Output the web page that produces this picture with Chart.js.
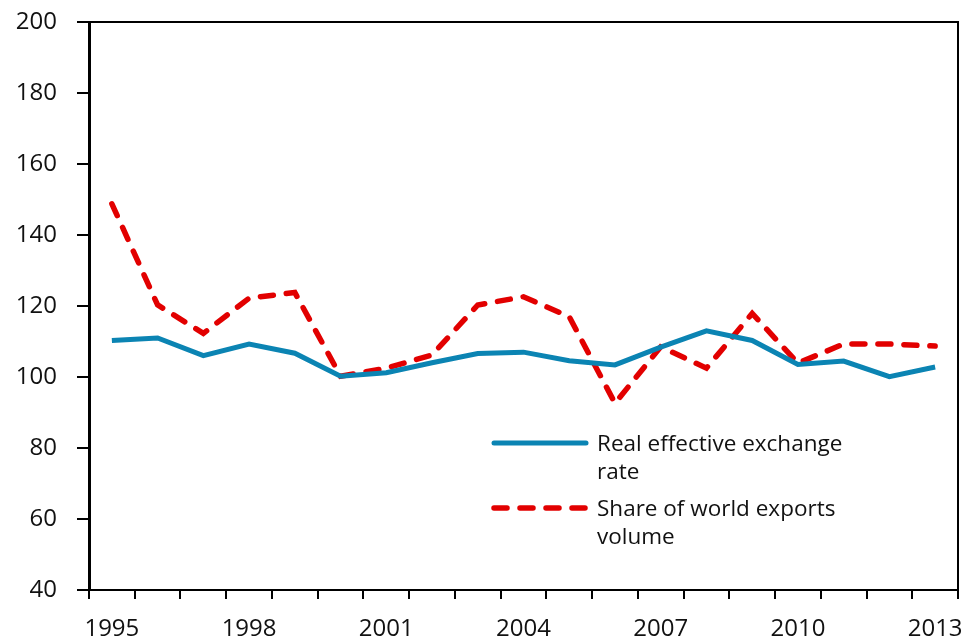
<!DOCTYPE html>
<html>
<head>
<meta charset="utf-8">
<script src="https://cdn.jsdelivr.net/npm/chart.js@4"></script>
<style>
  html, body { margin: 0; padding: 0; background: #fff; }
  #wrap { width: 970px; height: 641px; }
</style>
</head>
<body>
<div id="wrap"><canvas id="reerChart" width="970" height="641"></canvas></div>
<script>
const years = ["1995", "1996", "1997", "1998", "1999", "2000", "2001", "2002", "2003", "2004",
  "2005", "2006", "2007", "2008", "2009", "2010", "2011", "2012", "2013"];
const reer = [110.3, 111.0, 106.0, 109.3, 106.7, 100.2, 101.2, 104.0, 106.6, 107.0,
  104.6, 103.4, 108.4, 113.0, 110.3, 103.5, 104.5, 100.1, 102.8];
const exportShare = [148.8, 120.3, 112.3, 122.2, 123.8, 100.2, 102.5, 106.2, 120.3, 122.6,
  117.0, 92.6, 108.5, 102.5, 117.9, 103.9, 109.3, 109.3, 108.7];
const legendLines = [
  ["Real effective exchange", "rate"],
  ["Share of world exports", "volume"]
];

const FONT = "'Open Sans', sans-serif";
const BLUE = "#0b84b3";
const RED = "#e20000";

// frame on top and right of the plot area
const framePlugin = {
  id: "frame",
  afterDraw(chart) {
    const { ctx, chartArea: a } = chart;
    ctx.save();
    ctx.strokeStyle = "#000";
    ctx.lineWidth = 2;
    ctx.beginPath();
    ctx.moveTo(a.left - 12, a.top);
    ctx.lineTo(a.right, a.top);
    ctx.lineTo(a.right, a.bottom);
    ctx.stroke();
    ctx.restore();
  }
};

// legend sitting inside the plot, with wrapped labels
const insideLegend = {
  id: "insideLegend",
  afterDraw(chart) {
    const { ctx } = chart;
    const x0 = 494, x1 = 586, tx = 597;
    const rows = [443, 508];
    ctx.save();
    ctx.font = "22.5px " + FONT;
    ctx.textBaseline = "middle";
    ctx.fillStyle = "#111";
    chart.data.datasets.forEach((ds, i) => {
      const y = rows[i];
      ctx.strokeStyle = ds.borderColor;
      ctx.lineWidth = ds.borderWidth;
      ctx.lineCap = "round";
      ctx.setLineDash(ds.borderDash || []);
      ctx.beginPath();
      ctx.moveTo(x0, y);
      ctx.lineTo(x1, y);
      ctx.stroke();
      legendLines[i].forEach((line, j) => ctx.fillText(line, tx, y + 2 + j * 28));
    });
    ctx.restore();
  }
};

new Chart(document.getElementById("reerChart"), {
  type: "line",
  data: {
    labels: years,
    datasets: [
      {
        label: "Real effective exchange rate",
        data: reer,
        borderColor: BLUE,
        borderWidth: 5,
        pointRadius: 0,
        tension: 0
      },
      {
        label: "Share of world exports volume",
        data: exportShare,
        borderColor: RED,
        borderWidth: 5.5,
        borderDash: [13, 13],
        borderCapStyle: "round",
        pointRadius: 0,
        tension: 0
      }
    ]
  },
  options: {
    responsive: false,
    animation: false,
    layout: { padding: { top: 22, right: 12, left: 0, bottom: 0 } },
    plugins: {
      legend: { display: false },
      tooltip: { enabled: false }
    },
    scales: {
      x: {
        offset: true,
        grid: {
          offset: true,
          drawOnChartArea: false,
          drawTicks: true,
          tickLength: 9,
          tickColor: "#000",
          lineWidth: 2
        },
        border: { color: "#000", width: 2 },
        ticks: {
          autoSkip: false,
          maxRotation: 0,
          padding: 16,
          color: "#111",
          font: { family: FONT, size: 24 },
          callback: (v, i) => (i % 3 === 0 ? years[i] : "")
        },
        afterFit: (scale) => {
          scale.height = 51;
          scale.paddingLeft = 0;
          scale.paddingRight = 0;
        }
      },
      y: {
        min: 40,
        max: 200,
        ticks: {
          stepSize: 20,
          padding: 20,
          color: "#111",
          font: { family: FONT, size: 24 }
        },
        grid: {
          drawOnChartArea: false,
          drawTicks: true,
          tickLength: 12,
          tickColor: "#000",
          lineWidth: 2
        },
        border: { color: "#000", width: 3 },
        afterFit: (scale) => {
          scale.width = 89;
          scale.paddingTop = 0;
          scale.paddingBottom = 0;
        }
      }
    }
  },
  plugins: [framePlugin, insideLegend]
});
</script>
</body>
</html>
